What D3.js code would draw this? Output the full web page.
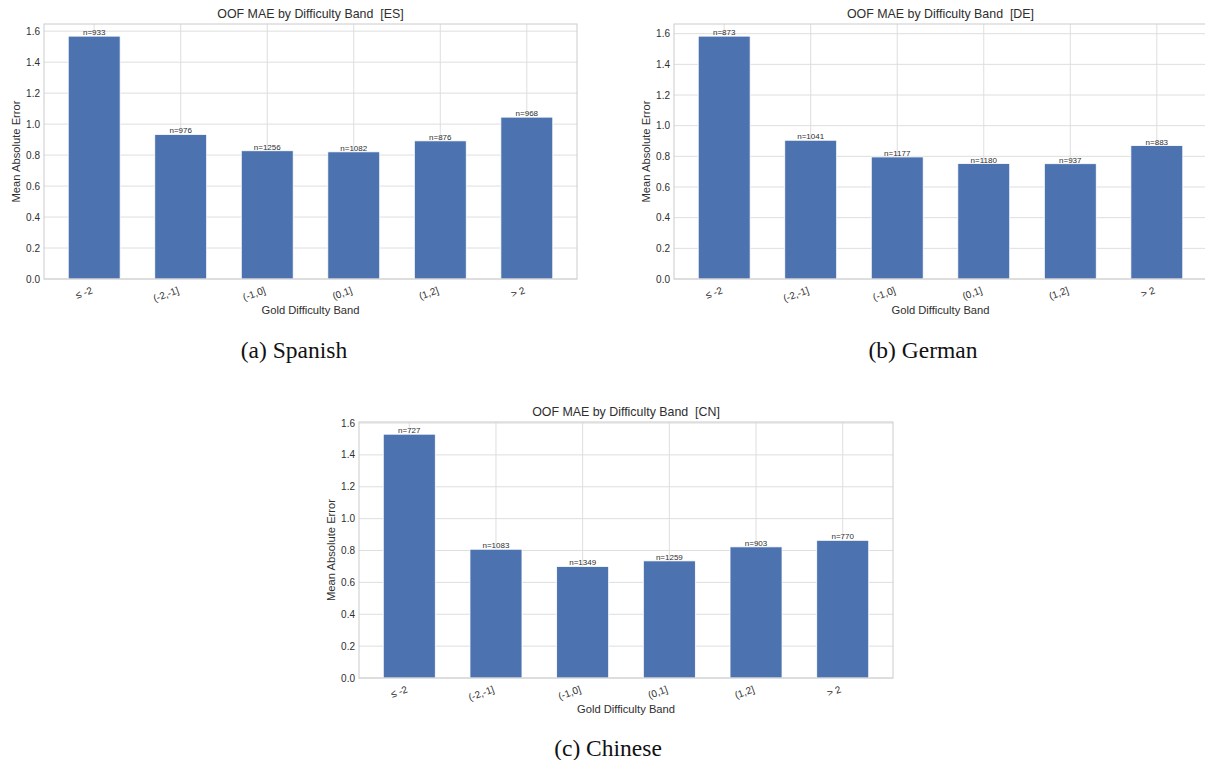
<!DOCTYPE html>
<html>
<head>
<meta charset="utf-8">
<script src="https://cdn.jsdelivr.net/npm/d3@7/dist/d3.min.js"></script>
<style>
  html, body { margin: 0; padding: 0; background: #ffffff; }
  svg { display: block; }
</style>
</head>
<body>
<svg id="fig" width="1205" height="760"></svg>
<script>
// Difficulty bands shared by all three languages
const bands = ["\u2264 -2", "(-2,-1]", "(-1,0]", "(0,1]", "(1,2]", "> 2"];

// Out-of-fold mean absolute error per band
const maeES = [1.568, 0.933, 0.828, 0.821, 0.892, 1.045];
const maeDE = [1.584, 0.905, 0.796, 0.753, 0.752, 0.870];
const maeCN = [1.530, 0.808, 0.700, 0.735, 0.823, 0.864];

// Sample counts per band
const countES = [933, 976, 1256, 1082, 876, 968];
const countDE = [873, 1041, 1177, 1180, 937, 883];
const countCN = [727, 1083, 1349, 1259, 903, 770];

const yTicks = [0, 0.2, 0.4, 0.6, 0.8, 1.0, 1.2, 1.4, 1.6];

const panels = [
  { code: "ES", caption: "(a) Spanish", values: maeES, counts: countES,
    left: 44, top: 24, width: 533, height: 255, capX: 294, capY: 358 },
  { code: "DE", caption: "(b) German", values: maeDE, counts: countDE,
    left: 674, top: 24, width: 533, height: 255, capX: 923, capY: 358 },
  { code: "CN", caption: "(c) Chinese", values: maeCN, counts: countCN,
    left: 359, top: 422, width: 534, height: 256, capX: 608, capY: 756 }
];

const svg = d3.select("#fig");
const sans = "'Liberation Sans', Arial, sans-serif";
const serif = "'Liberation Serif', 'Times New Roman', serif";
const barColor = "#4c72b0";
const gridColor = "#dedede";
const textColor = "#2e2e2e";

panels.forEach(p => {
  const g = svg.append("g").attr("transform", `translate(${p.left},${p.top})`);
  const W = p.width, H = p.height;

  // Bar positions: width 0.6 per category, 5% margin on each side
  const n = bands.length;
  const lo = -0.3, hi = (n - 1) + 0.3, pad = (hi - lo) * 0.05;
  const x = d3.scaleLinear().domain([lo - pad, hi + pad]).range([0, W]);
  const y = d3.scaleLinear().domain([0, d3.max(p.values) * 1.05]).range([H, 0]);

  // Horizontal grid
  g.append("g").selectAll("line").data(yTicks).join("line")
    .attr("x1", 0).attr("x2", W)
    .attr("y1", d => y(d)).attr("y2", d => y(d))
    .attr("stroke", gridColor).attr("stroke-width", 1);

  // Vertical grid at category centres
  g.append("g").selectAll("line").data(bands).join("line")
    .attr("x1", (d, i) => x(i)).attr("x2", (d, i) => x(i))
    .attr("y1", 0).attr("y2", H)
    .attr("stroke", gridColor).attr("stroke-width", 1);

  // Bars
  g.append("g").selectAll("rect").data(p.values).join("rect")
    .attr("x", (d, i) => x(i - 0.3))
    .attr("width", x(0.3) - x(-0.3))
    .attr("y", d => y(d))
    .attr("height", d => H - y(d))
    .attr("fill", barColor)
    .attr("stroke", "#ffffff").attr("stroke-width", 0.8);

  // Count labels above bars
  g.append("g").selectAll("text").data(p.values).join("text")
    .attr("x", (d, i) => x(i))
    .attr("y", d => y(d) - 1)
    .attr("text-anchor", "middle")
    .attr("font-family", sans).attr("font-size", 8)
    .attr("fill", textColor)
    .text((d, i) => "n=" + p.counts[i]);

  // Frame
  g.append("rect").attr("x", 0).attr("y", 0).attr("width", W).attr("height", H)
    .attr("fill", "none").attr("stroke", "#cccccc").attr("stroke-width", 1);

  // Y tick labels
  g.append("g").selectAll("text").data(yTicks).join("text")
    .attr("x", -4).attr("y", d => y(d))
    .attr("dy", "0.35em")
    .attr("text-anchor", "end")
    .attr("font-family", sans).attr("font-size", 10)
    .attr("fill", textColor)
    .text(d => d3.format(".1f")(d));

  // X tick labels, rotated
  g.append("g").selectAll("text").data(bands).join("text")
    .attr("transform", (d, i) => `translate(${x(i) - 1},${H + 14}) rotate(-20)`)
    .attr("text-anchor", "end")
    .attr("font-family", sans).attr("font-size", 10)
    .attr("fill", textColor)
    .text(d => d);

  // Axis titles
  g.append("text")
    .attr("x", W / 2).attr("y", H + 35)
    .attr("text-anchor", "middle")
    .attr("font-family", sans).attr("font-size", 11.2)
    .attr("fill", textColor)
    .text("Gold Difficulty Band");

  g.append("text")
    .attr("transform", `translate(-24,${H / 2}) rotate(-90)`)
    .attr("text-anchor", "middle")
    .attr("font-family", sans).attr("font-size", 11.2)
    .attr("fill", textColor)
    .text("Mean Absolute Error");

  // Panel title
  g.append("text")
    .attr("x", W / 2).attr("y", -6)
    .attr("text-anchor", "middle")
    .attr("font-family", sans).attr("font-size", 12.4)
    .attr("fill", textColor)
    .attr("xml:space", "preserve")
    .text(`OOF MAE by Difficulty Band  [${p.code}]`);

  // Sub-figure caption
  svg.append("text")
    .attr("x", p.capX).attr("y", p.capY)
    .attr("text-anchor", "middle")
    .attr("font-family", serif).attr("font-size", 23.5)
    .attr("fill", "#111111")
    .text(p.caption);
});
</script>
</body>
</html>
